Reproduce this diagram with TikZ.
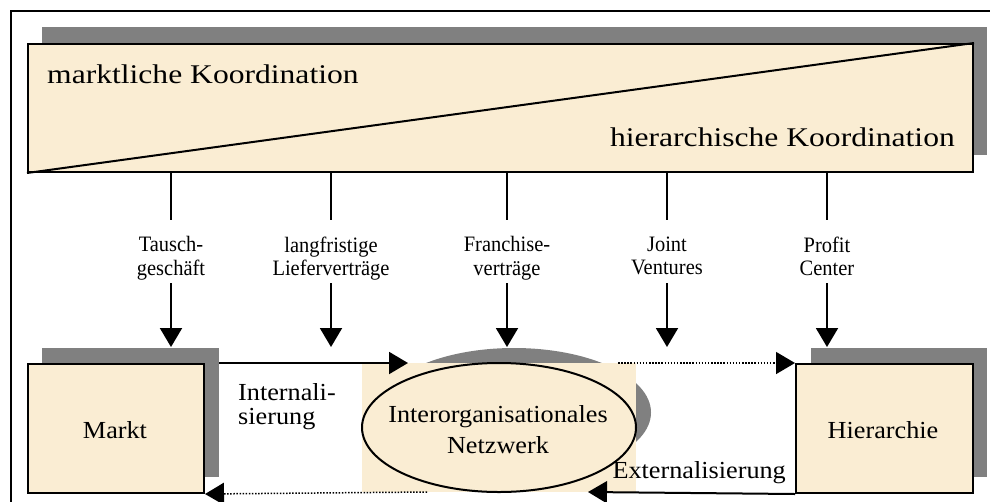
\documentclass[tikz,border=0pt]{standalone}
\usepackage{fontspec}
\usepackage{graphicx}
\setmainfont{Liberation Serif}
\usetikzlibrary{arrows.meta,shapes.geometric}
\definecolor{beige}{RGB}{250,237,211}
\definecolor{shadowgray}{RGB}{128,128,128}
\newcommand{\sxT}[1]{\scalebox{1.17}[1]{#1}}
\newcommand{\sxL}[1]{\scalebox{0.93}[1]{#1}}
\newcommand{\sxM}[1]{\scalebox{1.07}[1]{#1}}
\newcommand{\fTitle}{\fontsize{27}{32}\selectfont}
\newcommand{\fLab}{\fontsize{22}{23.5}\selectfont}
\newcommand{\fMid}{\fontsize{24.5}{31}\selectfont}
\newcommand{\fMidTight}{\fontsize{24.5}{24}\selectfont}
\tikzset{
  box/.style={draw=black, line width=2pt, fill=beige, inner sep=0pt, anchor=north west},
  shadowfill/.style={fill=shadowgray, draw=none},
  conn/.style={line width=2pt},
  arr/.style={line width=2pt, -{Triangle[length=19pt,width=22pt]}},
  dotarr/.style={line width=1.5pt, dash pattern=on 1.5pt off 1.6pt, -{Triangle[length=19pt,width=22pt]}},
  txt/.style={inner sep=0pt},
  lab/.style={inner sep=0pt, font=\fLab, align=center, anchor=north},
}
\begin{document}
\begin{tikzpicture}[x=1pt,y=-1pt]
\useasboundingbox (0,0) rectangle (990,501);
\clip (0,0) rectangle (990,501);
\fill[white] (0,0) rectangle (990,501);
\draw[line width=1.3pt] (11,11) rectangle (1010,520);

% top box
\fill[shadowfill] (42,27) rectangle (987,155);
\node[box, minimum width=945pt, minimum height=128pt] (koord) at (27,43) {};
\draw[line width=2pt] (koord.south west) -- (koord.north east);
\node[txt, anchor=base west, font=\fTitle] (mk) at (47,83) {\sxT{marktliche Koordination}};
\node[txt, anchor=base east, font=\fTitle] (hk) at (955,146) {\sxT{hierarchische Koordination}};

% network ellipse
\fill[shadowfill] (514,412.5) ellipse [x radius=137, y radius=64.5];
\fill[beige] (362,363) rectangle (636,492);
\node[draw, line width=2pt, ellipse, minimum width=274pt, minimum height=129pt, inner sep=0pt] (netz) at (499,427.5) {};
\node[txt, font=\fMid, align=center, anchor=north] (netztext) at (498,405.3) {\sxM{Interorganisationales}\\\sxM{Netzwerk}};

% vertical connectors
\foreach \i/\x/\t in {1/171/{\sxL{Tausch-}\\\sxL{geschäft}},
                       2/331/{\sxL{langfristige}\\\sxL{Lieferverträge}},
                       3/507/{\sxL{Franchise-}\\\sxL{verträge}},
                       4/667/{\sxL{Joint}\\\sxL{Ventures}},
                       5/827/{\sxL{Profit}\\\sxL{Center}}}{
  \coordinate (a\i) at (\x,171);
  \coordinate (b\i) at (\x,220);
  \coordinate (c\i) at (\x,283);
  \coordinate (t\i) at (\x,347);
  \node[lab] (l\i) at (\x,236.5) {\t};
  \draw[conn] (a\i) -- (b\i);
  \draw[arr] (c\i) -- (t\i);
}

% horizontal connectors
\coordinate (mkNE) at (203,363);
\coordinate (inTip) at (408,363);
\coordinate (dS) at (618,363);
\coordinate (outS) at (427,492);
\coordinate (exTip) at (588,492);
\draw[arr] (mkNE) -- (inTip);

% Markt
\fill[shadowfill] (42,348) rectangle (219,477);
\node[box, minimum width=176pt, minimum height=129pt] (markt) at (27,363) {};
\node[txt, anchor=base, font=\fMid] (mt) at (115,438) {\sxM{Markt}};

% Hierarchie
\fill[shadowfill] (811,348) rectangle (987,477);
\node[box, minimum width=177pt, minimum height=129pt] (hier) at (795,363) {};
\node[txt, anchor=base, font=\fMid] (ht) at (883,438) {\sxM{Hierarchie}};

\draw[dotarr] (dS) -- (hier.north west);
\draw[dotarr] (outS) -- (markt.south east);
\draw[arr] (hier.south west) -- (exTip);

\node[txt, anchor=north west, font=\fMidTight, align=left] (intern) at (238,383.3) {\sxM{Internali-}\\\sxM{sierung}};
\node[txt, anchor=base east, font=\fMid] (extern) at (786,478) {\sxM{Externalisierung}};
\end{tikzpicture}
\end{document}
